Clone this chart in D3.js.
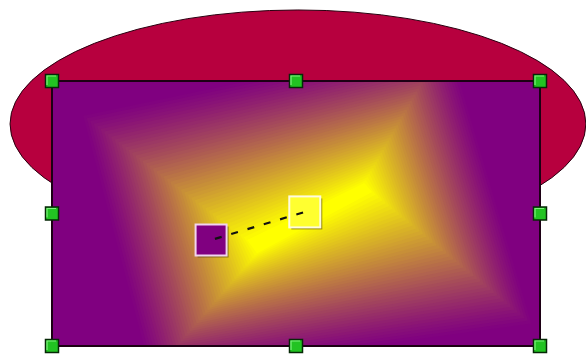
<!DOCTYPE html>
<html>
<head>
<script src="https://d3js.org/d3.v7.min.js"></script>
<style>
  body { margin: 0; background: #fff; }
</style>
</head>
<body>
<svg width="586" height="356"></svg>
<script>
// everything is in shape units: the selected rectangle runs 0..1 on both axes
var rectBox = [[0, 0], [1, 1]];
var ellipse = { cx: 0.504, cy: 0.162, rx: 0.590, ry: 0.430 };
var gradientColors = ["#800080", "#ffff00"]; // border, centre
var gradientSteps = 48;
// outer and inner corners of the rotated rectangular gradient (TL, TR, BR, BL)
var gradOuter = [[0.057, 0.121], [0.813, -0.169], [0.989, 0.926], [0.200, 1.120]];
var gradInner = [[0.400, 0.600], [0.640, 0.385], [0.656, 0.419], [0.420, 0.650]];
var gradHandles = [
  { name: "start", pos: [0.326, 0.600], fill: "#800080", edge: "#f2d4ef" },
  { name: "end",   pos: [0.518, 0.494], fill: "#ffff30", edge: "#fffbe0" }
];
var selHandles = [[0, 0], [0.5, 0], [1, 0], [0, 0.5], [1, 0.5], [0, 1], [0.5, 1], [1, 1]];

var svg = d3.select("svg");
var x = d3.scaleLinear().domain([0, 1]).range([52, 540]);
var y = d3.scaleLinear().domain([0, 1]).range([81, 346]);

// ellipse behind
svg.append("ellipse")
  .attr("cx", x(ellipse.cx))
  .attr("cy", y(ellipse.cy))
  .attr("rx", x(ellipse.rx) - x(0))
  .attr("ry", y(ellipse.ry) - y(0))
  .attr("fill", "#b7003e")
  .attr("stroke", "#2a0010")
  .attr("stroke-width", 1);

svg.append("clipPath").attr("id", "box")
  .append("rect")
  .attr("x", x(rectBox[0][0])).attr("y", y(rectBox[0][1]))
  .attr("width", x(rectBox[1][0]) - x(rectBox[0][0]))
  .attr("height", y(rectBox[1][1]) - y(rectBox[0][1]));

var g = svg.append("g").attr("clip-path", "url(#box)");

g.append("rect")
  .attr("x", x(0)).attr("y", y(0))
  .attr("width", x(1) - x(0)).attr("height", y(1) - y(0))
  .attr("fill", gradientColors[0]);

var color = d3.interpolateRgb(gradientColors[0], gradientColors[1]);
var steps = d3.range(gradientSteps + 1);

g.selectAll("polygon.band")
  .data(steps)
  .join("polygon")
  .attr("class", "band")
  .attr("points", function(i) {
    var t = 1 - i / gradientSteps;
    return gradOuter.map(function(o, k) {
      var inn = gradInner[k];
      return [x(inn[0] + t * (o[0] - inn[0])), y(inn[1] + t * (o[1] - inn[1]))].join(",");
    }).join(" ");
  })
  .attr("fill", function(i) { return color(Math.pow(i / gradientSteps, 1.15)); });

// outline of the rectangle
svg.append("rect")
  .attr("x", x(0)).attr("y", y(0))
  .attr("width", x(1) - x(0)).attr("height", y(1) - y(0))
  .attr("fill", "none")
  .attr("stroke", "#1c0014")
  .attr("stroke-width", 2);

// gradient start / end handles
var hs = 31;
var gh = svg.selectAll("g.gh").data(gradHandles).join("g").attr("class", "gh");
gh.append("rect")
  .attr("x", function(d) { return x(d.pos[0]) - hs / 2 + 2; })
  .attr("y", function(d) { return y(d.pos[1]) - hs / 2 + 2; })
  .attr("width", hs).attr("height", hs)
  .attr("fill", "#4a3a10").attr("opacity", 0.55);
gh.append("rect")
  .attr("x", function(d) { return x(d.pos[0]) - hs / 2; })
  .attr("y", function(d) { return y(d.pos[1]) - hs / 2; })
  .attr("width", hs).attr("height", hs)
  .attr("fill", function(d) { return d.fill; })
  .attr("stroke", function(d) { return d.edge; })
  .attr("stroke-width", 2);

svg.append("line")
  .attr("x1", x(gradHandles[0].pos[0])).attr("y1", y(gradHandles[0].pos[1]))
  .attr("x2", x(gradHandles[1].pos[0])).attr("y2", y(gradHandles[1].pos[1]))
  .attr("stroke", "#111")
  .attr("stroke-width", 2.2)
  .attr("stroke-dasharray", "7,10")
  .attr("stroke-dashoffset", -4);

// green selection handles
var s = 13;
svg.selectAll("rect.sel")
  .data(selHandles)
  .join("rect")
  .attr("class", "sel")
  .attr("x", function(d) { return x(d[0]) - s / 2; })
  .attr("y", function(d) { return y(d[1]) - s / 2; })
  .attr("width", s).attr("height", s)
  .attr("fill", "#22c322")
  .attr("stroke", "#062806")
  .attr("stroke-width", 1.5);
svg.selectAll("path.shine")
  .data(selHandles)
  .join("path")
  .attr("class", "shine")
  .attr("d", function(d) {
    var x0 = x(d[0]) - s / 2 + 1.5, y0 = y(d[1]) - s / 2 + 1.5;
    return "M" + x0 + "," + (y0 + s - 4) + "V" + y0 + "H" + (x0 + s - 4);
  })
  .attr("fill", "none")
  .attr("stroke", "#7df07d")
  .attr("stroke-width", 1.2);
</script>
</body>
</html>
